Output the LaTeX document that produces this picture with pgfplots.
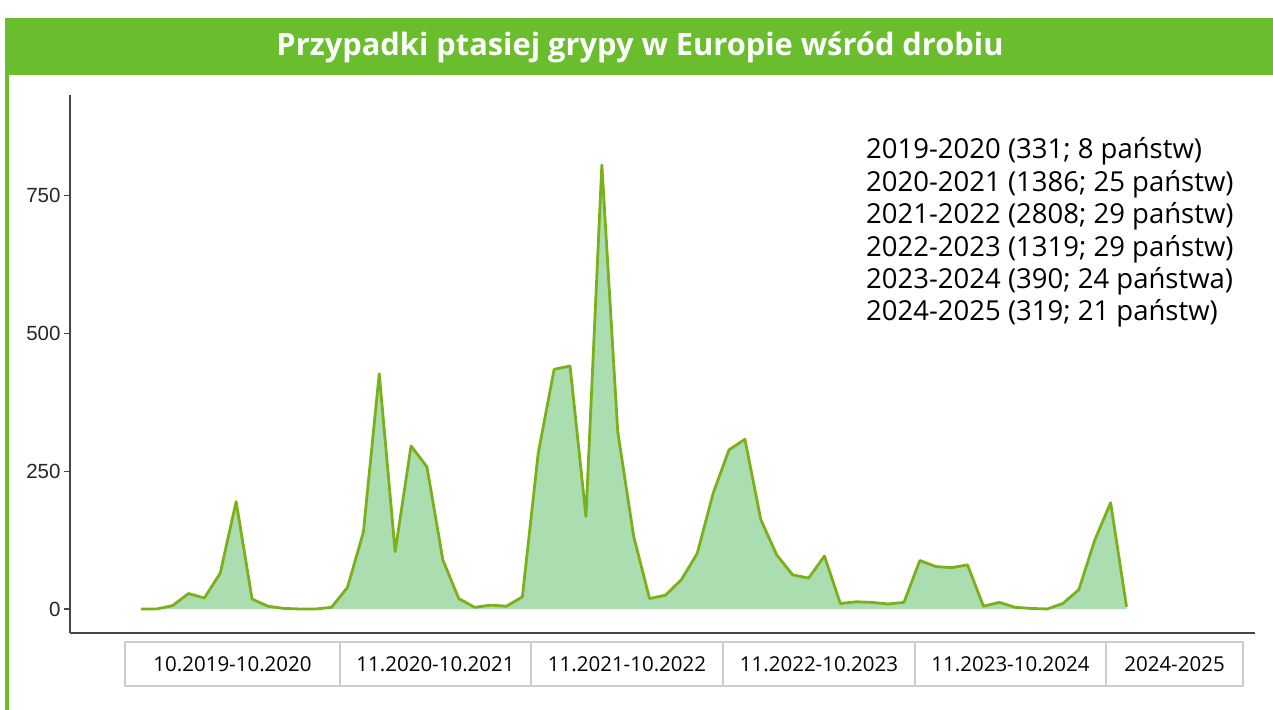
\documentclass[border=0pt]{standalone}
\usepackage{fontspec}
\setmainfont{Open Sans}
\newfontfamily\arialfont{Liberation Sans}
\usepackage{pgfplots}
\usepackage{pgfplotstable}
\pgfplotsset{compat=1.18}
\definecolor{bandgreen}{RGB}{106,189,45}
\definecolor{areafill}{RGB}{170,222,176}
\definecolor{linegreen}{RGB}{124,176,26}
\definecolor{axisgrey}{RGB}{70,70,70}
\definecolor{boxgrey}{RGB}{205,205,205}

\pgfplotstableread{
i v
0 0
1 0
2 6
3 28
4 20
5 65
6 195
7 18
8 5
9 1
10 0
11 0
12 3
13 39
14 139
15 427
16 104
17 296
18 258
19 89
20 19
21 3
22 7
23 5
24 22
25 283
26 435
27 441
28 168
29 806
30 322
31 132
32 19
33 25
34 53
35 101
36 210
37 289
38 308
39 162
40 98
41 62
42 56
43 96
44 10
45 13
46 12
47 9
48 12
49 88
50 77
51 75
52 80
53 5
54 12
55 3
56 1
57 0
58 10
59 35
60 125
61 193
62 4
}\birdflu

\begin{document}
\begin{tikzpicture}
\useasboundingbox (0bp,0bp) rectangle (1273bp,710bp);
\fill[white] (0bp,0bp) rectangle (1273bp,710bp);
\fill[bandgreen] (5bp,635bp) rectangle (1273bp,692bp);
\fill[bandgreen] (5bp,0bp) rectangle (8.5bp,635bp);
\node[anchor=base, text=white, inner sep=0pt, font=\bfseries\fontsize{30.8bp}{36bp}\selectfont] at (640bp,654bp) {Przypadki ptasiej grypy w Europie wśród drobiu};

\begin{axis}[
  at={(70bp,77bp)}, anchor=south west,
  scale only axis, width=1185bp, height=538bp,
  xmin=-4.45, xmax=70.08, ymin=-43.6, ymax=933,
  axis x line*=bottom, axis y line*=left,
  axis line style={draw=axisgrey, line width=1.6bp},
  xtick=\empty,
  ytick={0,250,500,750},
  tick align=outside,
  major tick length=6bp,
  ytick style={draw=axisgrey, line width=1.2bp},
  yticklabel style={font=\arialfont\fontsize{20.5bp}{24bp}\selectfont, text=black!85},
  /pgf/number format/assume math mode=true,
  clip=false,
]
\addplot[draw=none, fill=areafill] table[x=i,y=v]{\birdflu} \closedcycle;
\addplot[linegreen, line width=2.8bp, line join=round, mark=none] table[x=i,y=v]{\birdflu};
\end{axis}

\begin{scope}[font=\fontsize{27.5bp}{32bp}\selectfont]
\node[anchor=base west, inner sep=0pt] at (866bp,551bp) {2019-2020 (331; 8 państw)};
\node[anchor=base west, inner sep=0pt] at (866bp,518.6bp) {2020-2021 (1386; 25 państw)};
\node[anchor=base west, inner sep=0pt] at (866bp,486.2bp) {2021-2022 (2808; 29 państw)};
\node[anchor=base west, inner sep=0pt] at (866bp,453.8bp) {2022-2023 (1319; 29 państw)};
\node[anchor=base west, inner sep=0pt] at (866bp,421.4bp) {2023-2024 (390; 24 państwa)};
\node[anchor=base west, inner sep=0pt] at (866bp,389bp) {2024-2025 (319; 21 państw)};
\end{scope}

\draw[boxgrey, line width=1.5bp] (125bp,24bp) rectangle (1243bp,68bp);
\foreach \xx in {340,531,723,915,1106} {\draw[boxgrey, line width=1.5bp] (\xx bp,24bp) -- (\xx bp,68bp);}
\begin{scope}[font=\fontsize{20.5bp}{24bp}\selectfont]
\node[anchor=base, inner sep=0pt] at (232.5bp,38.3bp) {10.2019-10.2020};
\node[anchor=base, inner sep=0pt] at (435.5bp,38.3bp) {11.2020-10.2021};
\node[anchor=base, inner sep=0pt] at (627bp,38.3bp) {11.2021-10.2022};
\node[anchor=base, inner sep=0pt] at (819bp,38.3bp) {11.2022-10.2023};
\node[anchor=base, inner sep=0pt] at (1010.5bp,38.3bp) {11.2023-10.2024};
\node[anchor=base, inner sep=0pt] at (1174.5bp,38.3bp) {2024-2025};
\end{scope}
\end{tikzpicture}
\end{document}
